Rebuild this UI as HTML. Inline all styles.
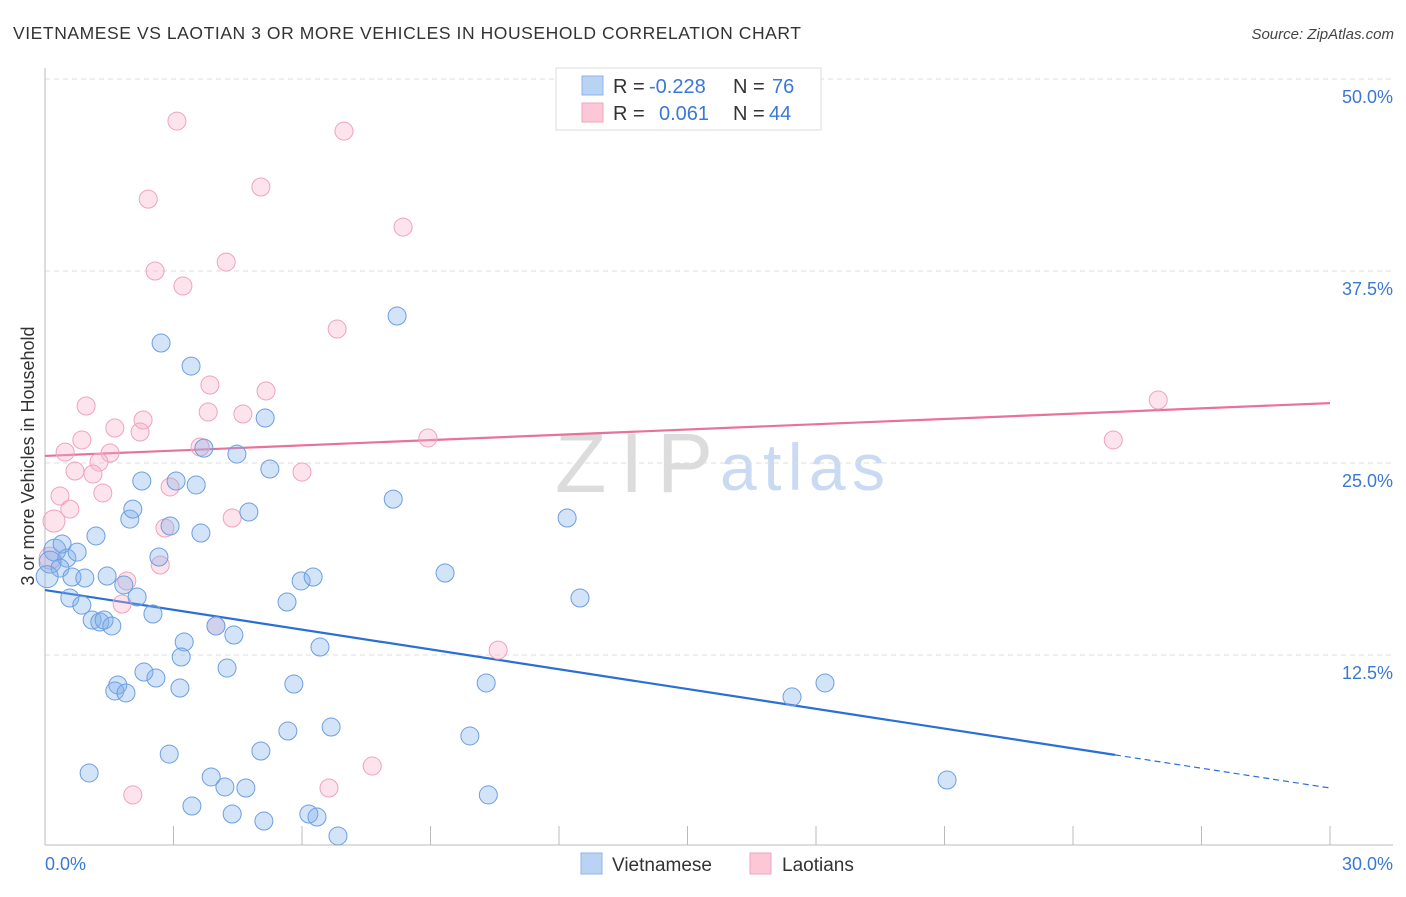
<!DOCTYPE html>
<html><head><meta charset="utf-8"><style>
body{margin:0;background:#fff;font-family:"Liberation Sans",sans-serif}
svg text{font-family:"Liberation Sans",sans-serif}
</style></head><body>
<svg id="chart" width="1406" height="892" viewBox="0 0 1406 892" xmlns="http://www.w3.org/2000/svg">
<text x="13" y="39" font-size="17.5" fill="#333" textLength="788">VIETNAMESE VS LAOTIAN 3 OR MORE VEHICLES IN HOUSEHOLD CORRELATION CHART</text>
<text x="1394" y="39" font-size="15" fill="#444" text-anchor="end" font-style="italic">Source: ZipAtlas.com</text>
<g>
<text x="555" y="492" font-size="84" fill="#dcdcdc" font-family="Liberation Serif,serif" textLength="158">ZIP</text>
<text x="720" y="490" font-size="66" fill="#c9daf2" textLength="165">atlas</text>
</g>
<g id="grid"></g>
<g id="axes"></g>
<g id="lines"></g>
<g id="points"></g>
<text transform="translate(34,456) rotate(-90)" font-size="18" fill="#333" text-anchor="middle">3 or more Vehicles in Household</text>
<g>
<rect x="556" y="68" width="265" height="62" fill="#fff" stroke="#ddd"/>
<rect x="582" y="76" width="21" height="19" fill="#b9d3f5" stroke="#8db5ea"/>
<rect x="582" y="103" width="21" height="19" fill="#fcc8d8" stroke="#f0a5bd"/>
<text x="613" y="93" font-size="20" fill="#333">R =</text>
<text x="649" y="93" font-size="20" fill="#3a78d8">-0.228</text>
<text x="733" y="93" font-size="20" fill="#333">N =</text>
<text x="772" y="93" font-size="20" fill="#3a78d8">76</text>
<text x="613" y="120" font-size="20" fill="#333">R =</text>
<text x="659" y="120" font-size="20" fill="#3a78d8">0.061</text>
<text x="733" y="120" font-size="20" fill="#333">N =</text>
<text x="769" y="120" font-size="20" fill="#3a78d8">44</text>
</g>
<g>
<rect x="581" y="853" width="21" height="21" fill="#b9d3f5" stroke="#8db5ea"/>
<text x="612" y="871" font-size="19" fill="#333">Vietnamese</text>
<rect x="750" y="853" width="21" height="21" fill="#fcc8d8" stroke="#f0a5bd"/>
<text x="782" y="871" font-size="19" fill="#333">Laotians</text>
</g>
</svg>
<script>
const yTicks=[12.5,25,37.5,50];
const yTickLabels=["12.5%","25.0%","37.5%","50.0%"];
const xTickCount=10;
const blueX=[0.23,0.12,0.40,0.51,0.75,0.35,0.63,0.93,0.58,0.86,1.19,1.45,1.10,1.28,1.38,1.56,1.84,2.15,2.52,1.98,2.05,2.26,2.66,2.92,3.06,3.53,3.64,2.71,3.41,3.71,4.48,5.14,5.25,4.76,3.25,3.18,3.99,4.41,4.25,2.31,2.59,3.15,1.70,1.63,1.89,1.03,2.90,3.43,3.88,4.20,4.69,4.37,5.11,5.04,5.67,5.81,6.16,6.35,6.68,6.84,6.42,5.65,5.98,6.26,8.13,8.22,9.34,9.92,10.30,10.35,12.19,12.49,17.44,18.21,21.06,0.05];
const blueY=[19.33,18.55,19.73,18.81,19.20,18.16,17.58,17.51,16.21,15.75,20.25,17.64,14.78,14.65,14.78,14.39,17.06,16.28,15.17,21.35,22.00,23.83,18.88,20.90,23.83,23.57,20.44,32.81,31.31,25.97,25.58,27.93,24.61,21.81,13.35,12.37,14.39,13.80,11.65,11.39,11.00,10.35,10.55,10.16,10.03,4.82,6.05,2.67,4.56,3.91,3.84,2.15,1.69,6.25,7.55,10.61,2.15,1.95,7.81,0.72,13.02,15.95,17.32,17.58,22.65,34.57,17.84,7.23,10.68,3.39,21.42,16.21,9.77,10.68,4.36,17.6];
const pinkX=[3.08,6.98,2.41,5.04,8.36,4.23,2.57,3.22,6.82,0.96,3.85,5.16,2.29,3.81,4.62,1.63,2.22,0.86,3.62,1.52,0.47,0.70,1.26,1.12,6.00,8.94,0.35,1.35,2.92,0.58,0.21,4.37,2.80,2.69,1.91,1.80,3.99,10.58,7.64,6.63,2.05,0.12,24.94,25.99];
const pinkY=[47.26,46.61,42.18,42.97,40.36,38.08,37.50,36.52,33.72,28.71,30.08,29.69,27.80,28.32,28.19,27.28,27.02,26.50,26.04,25.65,25.71,24.48,25.06,24.28,24.41,26.63,22.85,23.05,23.44,22.00,21.22,21.42,20.77,18.36,17.32,15.82,14.39,12.82,5.27,3.84,3.39,18.81,26.50,29.10];
const blueTrend=[16.73,3.84];
const blueSolidEnd=24.98;
const pinkTrend=[25.46,28.9];

const X0=45,X1=1330,Y0=847,YPER=192/12.5;
function sx(v){return X0+(X1-X0)*v/30;}
function sy(v){return Y0-v*YPER;}
const NS="http://www.w3.org/2000/svg";
function mk(tag,attrs,parent){const e=document.createElementNS(NS,tag);for(const k in attrs)e.setAttribute(k,attrs[k]);parent.appendChild(e);return e;}
const grid=document.getElementById('grid'),axes=document.getElementById('axes'),lines=document.getElementById('lines'),pts=document.getElementById('points');
yTicks.forEach((t,i)=>{
  const l=mk('line',{x1:45,x2:1393,y1:sy(t),y2:sy(t),stroke:'#ddd','stroke-dasharray':'5,4'},grid);
  
  
  const tx=mk('text',{x:1393,y:sy(t)+24,'font-size':18,fill:'#3a78d8','text-anchor':'end'},axes);
  tx.textContent=yTickLabels[i];
  
  
});
mk('line',{x1:45,x2:45,y1:68,y2:845,stroke:'#bbb'},axes);
mk('line',{x1:45,x2:1393,y1:845,y2:845,stroke:'#bbb'},axes);
for(let i=0;i<=xTickCount;i++){
  const v=30*i/xTickCount;
  const tk=mk('line',{x1:sx(v),x2:sx(v),y1:826,y2:845,stroke:'#bbb'},axes);
  
  
}
const xl0=mk('text',{x:45,y:870,'font-size':18,fill:'#3a78d8'},axes);xl0.textContent='0.0%';


const xl1=mk('text',{x:1393,y:870,'font-size':18,fill:'#3a78d8','text-anchor':'end'},axes);xl1.textContent='30.0%';


function dot(x,y,fill,stroke,name){
  const r=(x<0.3)?11:9;
  const c=mk('circle',{cx:sx(x),cy:sy(y),r:r,fill:fill,stroke:stroke,'stroke-width':1},pts);
  
  
}
pinkX.forEach((x,i)=>dot(x,pinkY[i],'rgba(248,175,200,0.35)','#f0a3bb','laotian-point'));
blueX.forEach((x,i)=>dot(x,blueY[i],'rgba(130,175,235,0.35)','#6b9fe2','vietnamese-point'));
function ty(tr,x){return tr[0]+(tr[1]-tr[0])*x/30;}
const bl=mk('line',{x1:sx(0),y1:sy(ty(blueTrend,0)),x2:sx(blueSolidEnd),y2:sy(ty(blueTrend,blueSolidEnd)),stroke:'#2a6fd6','stroke-width':2.2},lines);


const bd=mk('line',{x1:sx(blueSolidEnd),y1:sy(ty(blueTrend,blueSolidEnd)),x2:sx(30),y2:sy(ty(blueTrend,30)),stroke:'#2a6fd6','stroke-width':1.2,'stroke-dasharray':'6,4'},lines);


const pl=mk('line',{x1:sx(0),y1:sy(ty(pinkTrend,0)),x2:sx(30),y2:sy(ty(pinkTrend,30)),stroke:'#e8729a','stroke-width':2.2},lines);


</script>
</body></html>
